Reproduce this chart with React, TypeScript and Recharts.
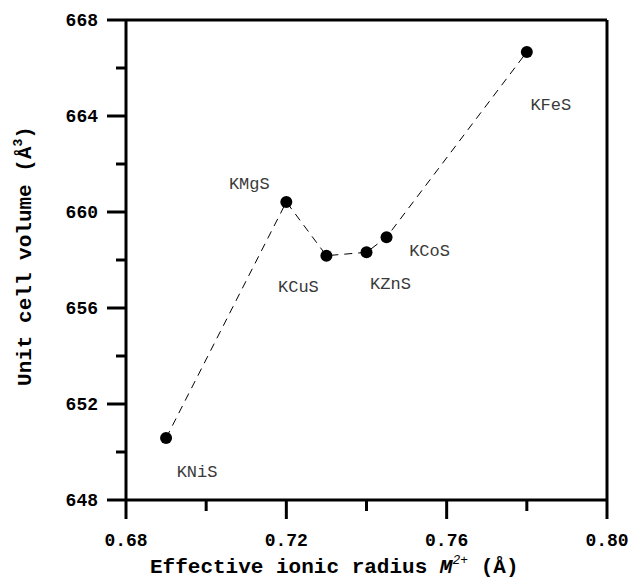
import { LineChart, Line, XAxis, YAxis, ReferenceLine, LabelList, Label } from 'recharts';

const compounds = ['KNiS', 'KMgS', 'KCuS', 'KZnS', 'KCoS', 'KFeS'];
const radius = [0.69, 0.72, 0.73, 0.74, 0.745, 0.78];
const volume = [650.58, 660.42, 658.18, 658.32, 658.95, 666.67];

const xTicks = [0.68, 0.7, 0.72, 0.74, 0.76, 0.78, 0.8];
const xTickLabels = ['0.68', '0.72', '0.76', '0.80'];
const yTicks = [648, 650, 652, 654, 656, 658, 660, 662, 664, 666, 668];
const yTickLabels = ['648', '652', '656', '660', '664', '668'];

// label offsets from each marker (centre of text)
const labelDx = [31, -37, -28, 24, 43, 24];
const labelDy = [33, -19, 30, 31, 13, 52];

const data = compounds.map((name, i) => ({ name, r: radius[i], v: volume[i] }));

const mono = '"Liberation Mono", "DejaVu Sans Mono", monospace';

const XTick = ({ x, y, payload }: any) => {
  const s = Number(payload.value).toFixed(2);
  const major = xTickLabels.includes(s);
  return (
    <g>
      <line x1={x} x2={x} y1={y} y2={y + (major ? 19 : 11)} stroke="#000" strokeWidth={3} />
      {major && (
        <text x={x} y={y + 46} textAnchor="middle" fontFamily={mono} fontWeight="bold" fontSize={18} fill="#000">
          {s}
        </text>
      )}
    </g>
  );
};

const YTick = ({ x, y, payload }: any) => {
  const s = String(payload.value);
  const major = yTickLabels.includes(s);
  return (
    <g>
      <line x1={x - (major ? 19 : 10)} x2={x} y1={y} y2={y} stroke="#000" strokeWidth={3} />
      {major && (
        <text x={x - 28} y={y + 6} textAnchor="end" fontFamily={mono} fontWeight="bold" fontSize={18} fill="#000">
          {s}
        </text>
      )}
    </g>
  );
};

const PointLabel = ({ x, y, index }: any) => (
  <text
    x={x + labelDx[index]}
    y={y + labelDy[index] + 6}
    textAnchor="middle"
    fontFamily={mono}
    fontSize={17}
    fill="#3a3a3a"
  >
    {compounds[index]}
  </text>
);

const XTitle = ({ viewBox }: any) => (
  <text x={viewBox.x + 24} y={573} fontFamily={mono} fontWeight="bold" fontSize={21} fill="#000">
    Effective ionic radius{' '}
    <tspan fontStyle="italic">M</tspan>
    <tspan fontSize={13} dy={-9} fontWeight="normal" fontStyle="italic">2+</tspan>
    <tspan dy={9}> (Å)</tspan>
  </text>
);

const YTitle = () => (
  <text
    transform="translate(31, 256) rotate(-90)"
    textAnchor="middle"
    fontFamily={mono}
    fontWeight="bold"
    fontSize={21}
    fill="#000"
  >
    Unit cell volume (Å<tspan fontSize={13} dy={-9}>3</tspan>
    <tspan dy={9}>)</tspan>
  </text>
);

export default function App() {
  return (
    <div style={{ position: 'absolute', left: 0, top: 0, width: 632, height: 580, background: '#fff' }}>
      <LineChart width={632} height={580} data={data} margin={{ top: 20, right: 25, left: 0, bottom: 0 }}>
        <XAxis
          type="number"
          dataKey="r"
          domain={[0.68, 0.8]}
          ticks={xTicks}
          allowDataOverflow
          height={80}
          tickSize={0}
          tickMargin={0}
          tickLine={false}
          interval={0}
          tick={<XTick />}
          axisLine={{ stroke: '#000', strokeWidth: 3 }}
        >
          <Label content={<XTitle />} />
        </XAxis>
        <YAxis
          type="number"
          dataKey="v"
          domain={[648, 668]}
          ticks={yTicks}
          allowDataOverflow
          width={126}
          tickSize={0}
          tickMargin={0}
          tickLine={false}
          interval={0}
          tick={<YTick />}
          axisLine={{ stroke: '#000', strokeWidth: 3 }}
        >
          <Label content={<YTitle />} />
        </YAxis>
        <ReferenceLine y={668} stroke="#000" strokeWidth={3} />
        <ReferenceLine x={0.8} stroke="#000" strokeWidth={3} />
        <Line
          type="linear"
          dataKey="v"
          stroke="#000"
          strokeWidth={1}
          strokeDasharray="8 6"
          dot={{ r: 6, fill: '#000', stroke: '#000', strokeWidth: 0 }}
          activeDot={false}
          isAnimationActive={false}
        >
          <LabelList dataKey="name" content={<PointLabel />} />
        </Line>
      </LineChart>
    </div>
  );
}
